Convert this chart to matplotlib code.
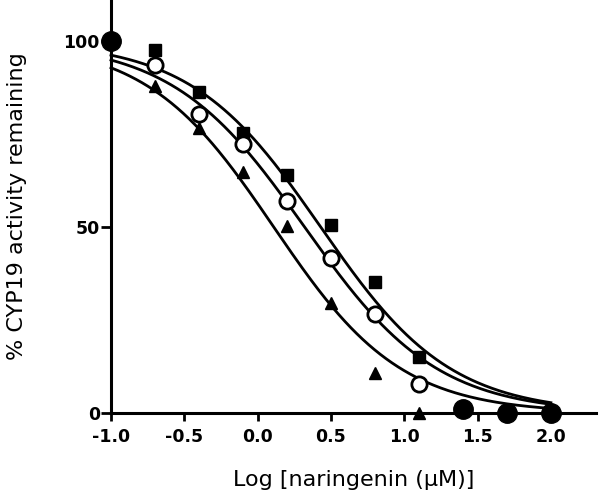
import numpy as np
import matplotlib
matplotlib.use("Agg")
import matplotlib.pyplot as plt

plt.rcParams["font.family"] = ["DejaVu Sans"]

# log concentration of naringenin (uM)
log_conc = [-0.7, -0.4, -0.1, 0.2, 0.5, 0.8, 1.1]
squares = [97.6, 86.3, 75.3, 64.0, 50.5, 35.2, 15.0]
circles = [93.5, 80.4, 72.3, 57.0, 41.7, 26.6, 7.8]
triangles = [88.0, 76.6, 64.8, 50.3, 29.6, 10.8, 0.0]

# points where all series overlap
shared_x = [-1.0, 1.4, 1.7, 2.0]
shared_y = [100.0, 1.2, 0.0, 0.0]

# fitted curves: (log IC50, hill slope)
fits = {"squares": (0.43, 0.98), "circles": (0.32, 0.96), "triangles": (0.11, 1.0)}

x_ticks = [-1.0, -0.5, 0.0, 0.5, 1.0, 1.5, 2.0]
y_ticks = [0, 50, 100]


def logistic(x, c, h):
    return 100.0 / (1.0 + 10 ** ((x - c) * h))


fig = plt.figure(figsize=(6, 4.96), dpi=100)
ax = fig.add_axes([0.185, 0.167, 0.808, 0.833])

xs = np.linspace(-1, 2, 300)
for c, h in fits.values():
    ax.plot(xs, logistic(xs, c, h), color="black", lw=2, clip_on=False, zorder=2)

ax.plot(log_conc, squares, "s", color="black", ms=8, clip_on=False, zorder=3)
ax.plot(log_conc, circles, "o", mfc="white", mec="black", mew=2, ms=11,
        clip_on=False, zorder=4)
ax.plot(log_conc, triangles, "^", color="black", ms=9, clip_on=False, zorder=3)
ax.plot(shared_x, shared_y, "o", color="black", ms=14, clip_on=False, zorder=5)

ax.set_xlim(-1.0, 2.306)
ax.set_ylim(0, 111)
ax.set_xticks(x_ticks)
ax.set_xticklabels([f"{t:.1f}" for t in x_ticks], fontsize=12.5, fontweight="bold")
ax.set_yticks(y_ticks)
ax.set_yticklabels([str(t) for t in y_ticks], fontsize=12.5, fontweight="bold")

ax.spines["top"].set_visible(False)
ax.spines["right"].set_visible(False)
for s in ("left", "bottom"):
    ax.spines[s].set_linewidth(2.2)
ax.tick_params(axis="x", width=2, length=6, direction="out", pad=5)
ax.tick_params(axis="y", width=2, length=7, direction="out", pad=1)

ax.set_xlabel("Log [naringenin (\u00b5M)]", fontsize=16, labelpad=17)
ax.set_ylabel("% CYP19 activity remaining", fontsize=16, labelpad=26)

fig.savefig("out.png", dpi=100)
